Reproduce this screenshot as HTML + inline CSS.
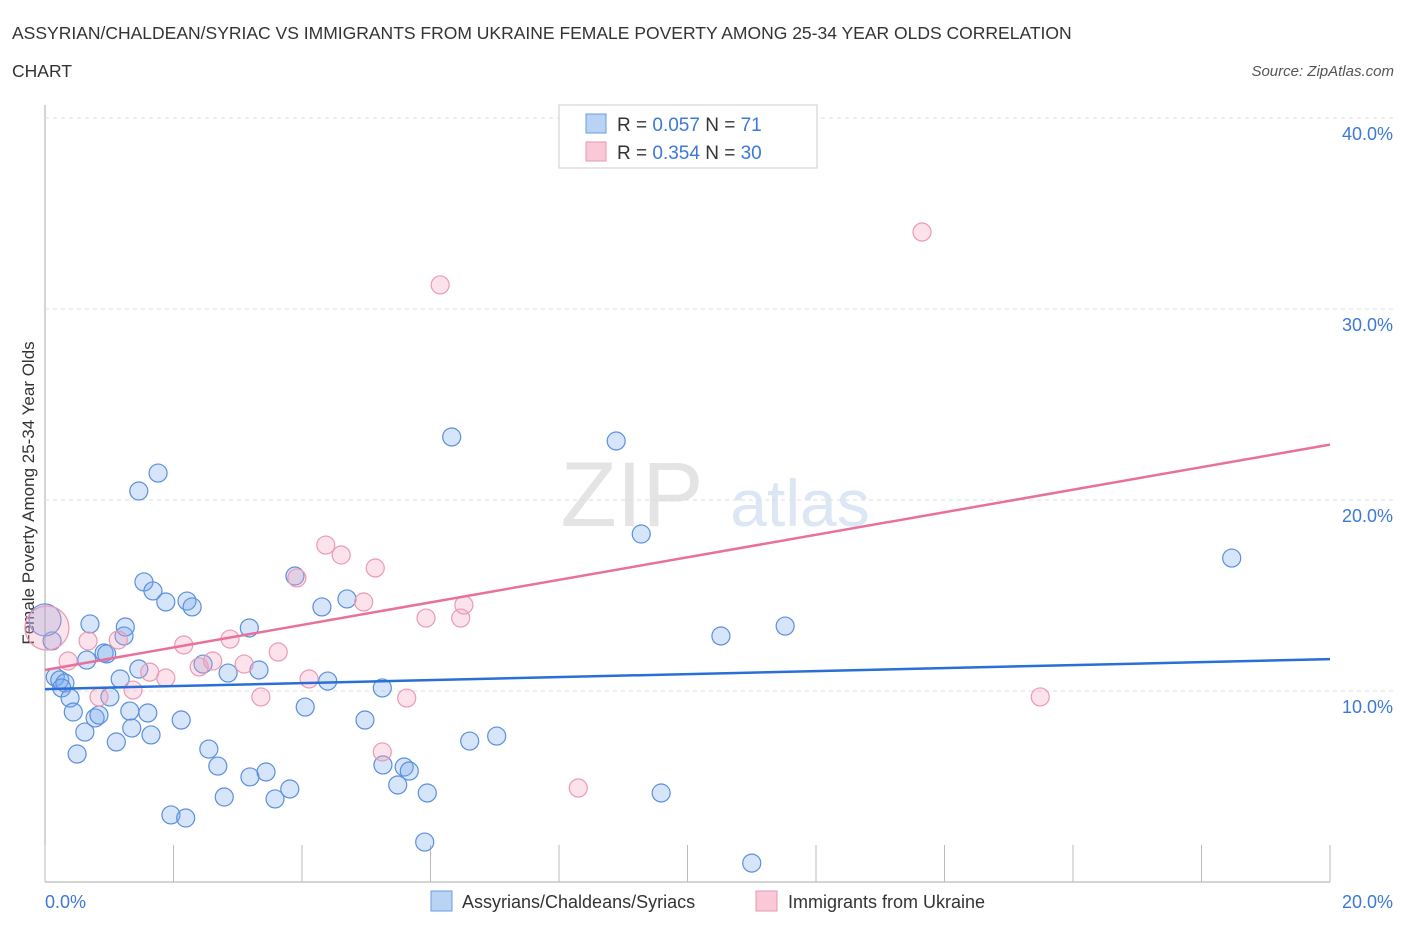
<!DOCTYPE html>
<html><head><meta charset="utf-8"><style>
body{margin:0;background:#fff;font-family:"Liberation Sans",sans-serif;}
svg text{font-family:"Liberation Sans",sans-serif;}
</style></head><body>
<svg id="chart" width="1406" height="930" xmlns="http://www.w3.org/2000/svg">
<text x="12" y="39" font-size="17.5" fill="#333">ASSYRIAN/CHALDEAN/SYRIAC VS IMMIGRANTS FROM UKRAINE FEMALE POVERTY AMONG 25-34 YEAR OLDS CORRELATION</text>
<text x="12" y="77" font-size="17.5" fill="#333">CHART</text>
<text x="1394" y="76" font-size="15" fill="#555" text-anchor="end" font-style="italic">Source: ZipAtlas.com</text>
<text x="632" y="526" font-size="92" fill="#e4e4e4" text-anchor="middle" font-family="Liberation Serif">ZIP</text>
<text x="800" y="526" font-size="66" fill="#dce6f4" text-anchor="middle">atlas</text>
<text transform="translate(34,493) rotate(-90)" font-size="17" fill="#333" text-anchor="middle">Female Poverty Among 25-34 Year Olds</text>
<g id="grid"></g><g id="pts"></g><g id="lines"></g>
<g>
<rect x="559" y="105" width="258" height="63" fill="#fff" stroke="#ccc"/>
<rect x="586" y="114" width="20" height="19" fill="#b9d3f5" stroke="#6a9de0"/>
<text x="617" y="131" font-size="19" fill="#333">R = <tspan fill="#3c78d8">0.057</tspan>    N =  <tspan fill="#3c78d8">71</tspan></text>
<rect x="586" y="142" width="20" height="19" fill="#f9c9d7" stroke="#e995b0"/>
<text x="617" y="159" font-size="19" fill="#333">R = <tspan fill="#3c78d8">0.354</tspan>    N = <tspan fill="#3c78d8">30</tspan></text>
</g>
<g>
<rect x="431" y="891" width="21" height="20" fill="#b9d3f5" stroke="#6a9de0"/>
<text x="462" y="908" font-size="18" fill="#333">Assyrians/Chaldeans/Syriacs</text>
<rect x="756" y="891" width="21" height="20" fill="#f9c9d7" stroke="#e995b0"/>
<text x="788" y="908" font-size="18" fill="#333">Immigrants from Ukraine</text>
</g>
</svg>
<script>
const blueX=[.11,.16,.23,.31,.26,.39,.44,.50,.62,.70,.65,.78,.84,.92,.96,1.01,1.11,1.17,1.23,1.25,1.32,1.35,1.46,1.46,1.54,1.60,1.65,1.68,1.76,1.88,1.96,2.12,2.19,2.21,2.29,2.46,2.55,2.69,2.79,2.85,3.18,3.19,3.33,3.44,3.58,3.81,3.89,4.05,4.31,4.40,4.70,4.98,5.25,5.26,5.49,5.59,5.67,5.95,5.91,6.33,6.61,7.03,8.89,9.28,9.59,10.52,11.00,11.52,18.47,0];
const blueY=[12.62,10.73,10.58,10.42,10.16,9.63,8.90,6.70,7.85,13.51,11.62,8.59,8.74,11.99,11.94,9.69,7.33,10.63,12.88,13.35,8.95,8.06,11.15,20.47,15.71,8.85,7.70,15.24,21.41,14.66,3.51,8.48,3.35,14.71,14.40,11.41,6.96,6.07,4.45,10.94,13.30,5.50,11.10,5.76,4.35,4.87,16.02,9.16,14.40,10.52,14.82,8.48,10.16,6.13,5.08,6.02,5.81,4.66,2.09,23.30,7.38,7.64,23.09,18.22,4.66,12.88,0.99,13.40,16.96,13.72];
const pinkX=[.03,.36,.67,.84,1.14,1.37,1.63,1.88,2.16,2.40,2.61,2.88,3.10,3.36,3.63,3.92,4.11,4.37,4.61,4.96,5.14,5.25,5.63,5.93,6.15,6.47,6.52,8.30,13.65,15.49];
const pinkY=[13.30,11.57,12.62,9.69,12.67,10.05,10.99,10.68,12.41,11.26,11.57,12.72,11.41,9.69,12.04,15.92,10.63,17.64,17.12,14.66,16.44,6.81,9.63,13.82,31.26,13.82,14.50,4.92,34.03,9.69];
const blueTrend=[10.1,11.67];
const pinkTrend=[11.1,22.9];
const yTicks=[10,20,30,40];
const xTicks=[0,20];
const X0=45,X1=1330,Y0=882,PX=19.1;
const sx=v=>X0+(v/20)*(X1-X0), sy=v=>Y0-v*PX;
const NS="http://www.w3.org/2000/svg";
function mk(t,a,p){const e=document.createElementNS(NS,t);for(const k in a)e.setAttribute(k,a[k]);p.appendChild(e);return e;}
const g=document.getElementById('grid');
const ax=mk('line',{x1:X0,y1:105,x2:X0,y2:Y0,stroke:'#aaa'},g);


const bx=mk('line',{x1:X0,y1:Y0,x2:X1,y2:Y0,stroke:'#aaa'},g);


for(let i=0;i<=10;i++){const t=mk('line',{x1:X0+i*(X1-X0)/10,y1:845,x2:X0+i*(X1-X0)/10,y2:Y0,stroke:'#bbb'},g);

}
yTicks.forEach(v=>{const l=mk('line',{x1:X0,y1:sy(v),x2:1395,y2:sy(v),stroke:'#ddd','stroke-dasharray':'4,4'},g);


const t=mk('text',{x:1393,y:sy(v)+22,'font-size':18,fill:'#3c78d8','text-anchor':'end'},g);t.textContent=v.toFixed(1)+'%';

});
xTicks.forEach((v,i)=>{const t=mk('text',{x:i?1393:X0,y:908,'font-size':18,fill:'#3c78d8','text-anchor':i?'end':'start'},g);t.textContent=v.toFixed(1)+'%';

});
const p=document.getElementById('pts');
blueX.forEach((v,i)=>{const c=mk('circle',{cx:sx(v),cy:sy(blueY[i]),r:i==blueX.length-1?16:9,fill:'rgba(120,170,235,0.3)',stroke:'#5a8fde','stroke-width':1.2},p);

});
pinkX.forEach((v,i)=>{const c=mk('circle',{cx:sx(v),cy:sy(pinkY[i]),r:i==0?22:9,fill:'rgba(245,160,185,0.3)',stroke:'#eb9ab3','stroke-width':1.2},p);

});
const L=document.getElementById('lines');
const b=mk('line',{x1:sx(0),y1:sy(blueTrend[0]),x2:sx(20),y2:sy(blueTrend[1]),stroke:'#2a6fd6','stroke-width':2.5},L);


const q=mk('line',{x1:sx(0),y1:sy(pinkTrend[0]),x2:sx(20),y2:sy(pinkTrend[1]),stroke:'#e8709a','stroke-width':2.5},L);


</script>
</body></html>
